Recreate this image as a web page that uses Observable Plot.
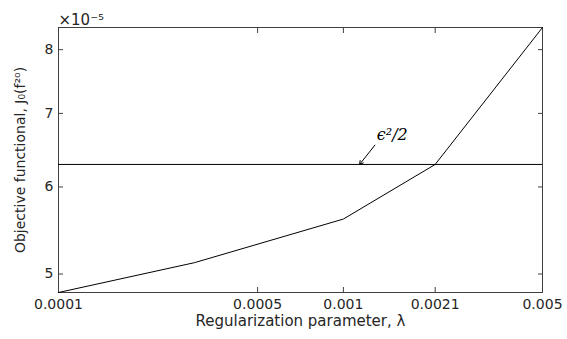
<!DOCTYPE html>
<html>
<head>
<meta charset="utf-8">
<script src="https://cdn.jsdelivr.net/npm/d3@7"></script>
<script src="https://cdn.jsdelivr.net/npm/@observablehq/plot@0.6"></script>
<style>
  html, body { margin: 0; padding: 0; background: white; }
</style>
</head>
<body>
<div id="chart"></div>
<script>
// Data
const lambda = [0.0001, 0.0003, 0.001, 0.0021, 0.005];
const J0 = [4.81e-5, 5.12e-5, 5.61e-5, 6.29e-5, 8.38e-5];
const epsHalf = 6.29e-5;

const xTicks = [0.0001, 0.0005, 0.001, 0.0021, 0.005];
const xTickLabels = ["0.0001", "0.0005", "0.001", "0.0021", "0.005"];
const yTicks = [5e-5, 6e-5, 7e-5, 8e-5];
const yTickLabels = ["5", "6", "7", "8"];

const xTitle = "Regularization parameter, λ";
const yTitle = "Objective functional, J₀(f²⁰)";
const yExponent = "×10⁻⁵";

// annotation (arrow tail/tip and label position, in data units)
const annArrowX = [0.00129, 0.00114];
const annArrowY = [6.55e-5, epsHalf];
const annLabel = "ϵ²/2";
const annLabelPos = [0.00131, 6.62e-5];

const data = lambda.map((l, i) => ({lambda: l, J: J0[i]}));
const xLab = xTicks.map((v, i) => ({v, label: xTickLabels[i]}));
const yLab = yTicks.map((v, i) => ({v, label: yTickLabels[i]}));
const textColor = "#262626";
const frameColor = "#404040";

const chart = Plot.plot({
  width: 567,
  height: 339,
  marginLeft: 58,
  marginRight: 25,
  marginTop: 27,
  marginBottom: 47,
  style: {fontFamily: "DejaVu Sans", fontSize: "14px", color: textColor, background: "white"},
  x: {type: "log", domain: [lambda[0], lambda[lambda.length - 1]], label: null},
  y: {type: "log", domain: d3.extent(J0), label: null},
  marks: [
    Plot.frame({stroke: frameColor, strokeWidth: 1}),
    // inward ticks on all four sides
    Plot.axisX(xTicks, {anchor: "bottom", tickSize: -5, tickFormat: () => "", stroke: frameColor, label: null}),
    Plot.axisX(xTicks, {anchor: "top", tickSize: -5, tickFormat: () => "", stroke: frameColor, label: null}),
    Plot.axisY(yTicks, {anchor: "left", tickSize: -5, tickFormat: () => "", stroke: frameColor, label: null}),
    Plot.axisY(yTicks, {anchor: "right", tickSize: -5, tickFormat: () => "", stroke: frameColor, label: null}),
    // tick labels
    Plot.text(xLab, {x: "v", text: "label", frameAnchor: "bottom", textAnchor: "middle", lineAnchor: "top", dy: 7, fill: textColor, fontSize: 14}),
    Plot.text(yLab, {y: "v", text: "label", frameAnchor: "left", textAnchor: "end", dx: -5, fill: textColor, fontSize: 14}),
    // data
    Plot.ruleY([epsHalf], {stroke: "black", strokeWidth: 1}),
    Plot.line(data, {x: "lambda", y: "J", stroke: "black", strokeWidth: 1}),
    // annotation
    Plot.arrow([0], {x1: () => annArrowX[0], y1: () => annArrowY[0], x2: () => annArrowX[1], y2: () => annArrowY[1], stroke: "black", strokeWidth: 1, headLength: 6}),
    Plot.text([annLabel], {x: () => annLabelPos[0], y: () => annLabelPos[1], textAnchor: "start", lineAnchor: "bottom", fontFamily: "DejaVu Serif", fontStyle: "italic", fontSize: 16, fill: "black"}),
    // titles
    Plot.text([xTitle], {frameAnchor: "bottom", textAnchor: "middle", dy: 33, fill: textColor, fontSize: 15}),
    Plot.text([yTitle], {frameAnchor: "left", textAnchor: "middle", rotate: -90, dx: -38, fill: textColor, fontSize: 14}),
    Plot.text([yExponent], {frameAnchor: "top-left", textAnchor: "start", lineAnchor: "bottom", dy: -3, fill: textColor, fontSize: 15})
  ]
});
document.getElementById("chart").appendChild(chart);
</script>
</body>
</html>
